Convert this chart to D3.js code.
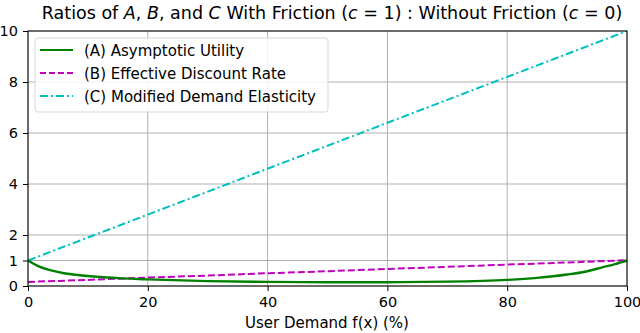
<!DOCTYPE html>
<html>
<head>
<meta charset="utf-8">
<script src="https://cdn.jsdelivr.net/npm/d3@7"></script>
<style>
  body { margin: 0; background: #fff; }
  svg text { font-family: "DejaVu Sans", sans-serif; fill: #000; }
  .grid line { stroke: #b0b0b0; stroke-width: 1; }
</style>
</head>
<body>
<svg id="chart" width="640" height="333"></svg>
<script>
// x values (user demand, %)
const demandA = [0, 2, 4, 6, 8, 10, 15, 20, 30, 40, 50, 60, 70, 80, 85, 90, 93, 96, 98, 100]
const utilityA = [1.0, 0.75, 0.6, 0.5, 0.44, 0.39, 0.31, 0.26, 0.19, 0.16, 0.15, 0.15, 0.17, 0.24, 0.32, 0.45, 0.56, 0.74, 0.86, 1.0]

const demandBC = [0, 10, 20, 30, 40, 50, 60, 70, 80, 90, 100]
const discountB = [0.16, 0.24, 0.33, 0.41, 0.5, 0.58, 0.67, 0.75, 0.84, 0.92, 1.01]
const elasticityC = [1, 1.9, 2.8, 3.7, 4.6, 5.5, 6.4, 7.3, 8.2, 9.1, 10]

const xTicks = [0, 20, 40, 60, 80, 100]
const yTicks = [0, 1, 2, 4, 6, 8, 10]

const seriesNames = ['(A) Asymptotic Utility', '(B) Effective Discount Rate', '(C) Modified Demand Elasticity']

const svg = d3.select('#chart')
const xScale = d3.scaleLinear().domain([0, 100]).range([28, 627])
const yScale = d3.scaleLinear().domain([0, 10]).range([286, 31])

// grid
svg.append('g').classed('grid', true)
    .selectAll('line.gx')
    .data(xTicks)
    .enter()
    .append('line')
    .attr('x1', d => xScale(d)).attr('x2', d => xScale(d))
    .attr('y1', yScale(0)).attr('y2', yScale(10))

svg.append('g').classed('grid', true)
    .selectAll('line.gy')
    .data(yTicks)
    .enter()
    .append('line')
    .attr('y1', d => yScale(d)).attr('y2', d => yScale(d))
    .attr('x1', xScale(0)).attr('x2', xScale(100))

// axes
const xAxis = svg.append('g')
    .attr('transform', `translate(0,${yScale(0)})`)
    .call(d3.axisBottom(xScale).tickValues(xTicks).tickSize(5).tickPadding(6))
const yAxis = svg.append('g')
    .attr('transform', `translate(${xScale(0)},0)`)
    .call(d3.axisLeft(yScale).tickValues(yTicks).tickSize(5).tickPadding(5))

for (const ax of [xAxis, yAxis]) {
    ax.select('.domain').remove()
    ax.selectAll('text').attr('font-size', 14.5).attr('font-family', 'DejaVu Sans')
    ax.selectAll('line').attr('stroke', '#000')
}

// lines
const lineA = d3.line().x((d, i) => xScale(demandA[i])).y(d => yScale(d)).curve(d3.curveMonotoneX)
const lineBC = d3.line().x((d, i) => xScale(demandBC[i])).y(d => yScale(d))

svg.append('path').datum(discountB)
    .attr('d', lineBC)
    .attr('fill', 'none').attr('stroke', '#bf00bf').attr('stroke-width', 2)
    .attr('stroke-dasharray', '7,3')

svg.append('path').datum(elasticityC)
    .attr('d', lineBC)
    .attr('fill', 'none').attr('stroke', '#00bfbf').attr('stroke-width', 2)
    .attr('stroke-dasharray', '8,3,2,3')

svg.append('path').datum(utilityA)
    .attr('d', lineA)
    .attr('fill', 'none').attr('stroke', '#008000').attr('stroke-width', 2.4)

// frame
svg.append('rect')
    .attr('x', xScale(0)).attr('y', yScale(10))
    .attr('width', xScale(100) - xScale(0)).attr('height', yScale(0) - yScale(10))
    .attr('fill', 'none').attr('stroke', '#000').attr('stroke-width', 1)

// legend
const legend = svg.append('g')
legend.append('rect')
    .attr('x', 35).attr('y', 38).attr('width', 293).attr('height', 74)
    .attr('rx', 3)
    .attr('fill', '#fff').attr('fill-opacity', 0.85)
    .attr('stroke', '#d6d6d6')

const legendStyles = [
    { color: '#008000', dash: null },
    { color: '#bf00bf', dash: '6,3' },
    { color: '#00bfbf', dash: '8,3,2,3' }
]
const legendRows = legend.selectAll('.row')
    .data(seriesNames)
    .enter()
    .append('g')
    .attr('transform', (d, i) => `translate(0,${50 + i * 23})`)

legendRows.append('line')
    .attr('x1', 40).attr('x2', 73)
    .attr('stroke', (d, i) => legendStyles[i].color)
    .attr('stroke-width', 2)
    .attr('stroke-dasharray', (d, i) => legendStyles[i].dash)

legendRows.append('text')
    .attr('x', 84).attr('y', 5.5)
    .attr('font-size', 15)
    .text(d => d)

// title
const title = svg.append('text')
    .attr('x', 332).attr('y', 19)
    .attr('text-anchor', 'middle')
    .attr('font-size', 17.5)
const titleParts = [
    ['Ratios of ', false], ['A', true], [', ', false], ['B', true], [', and ', false], ['C', true],
    [' With Friction (', false], ['c', true], [' = 1) : Without Friction (', false], ['c', true], [' = 0)', false]
]
title.selectAll('tspan')
    .data(titleParts)
    .enter()
    .append('tspan')
    .attr('font-style', d => d[1] ? 'italic' : 'normal')
    .text(d => d[0])

// x label
svg.append('text')
    .attr('x', 327).attr('y', 328)
    .attr('text-anchor', 'middle')
    .attr('font-size', 15)
    .text('User Demand f(x) (%)')
</script>
</body>
</html>
